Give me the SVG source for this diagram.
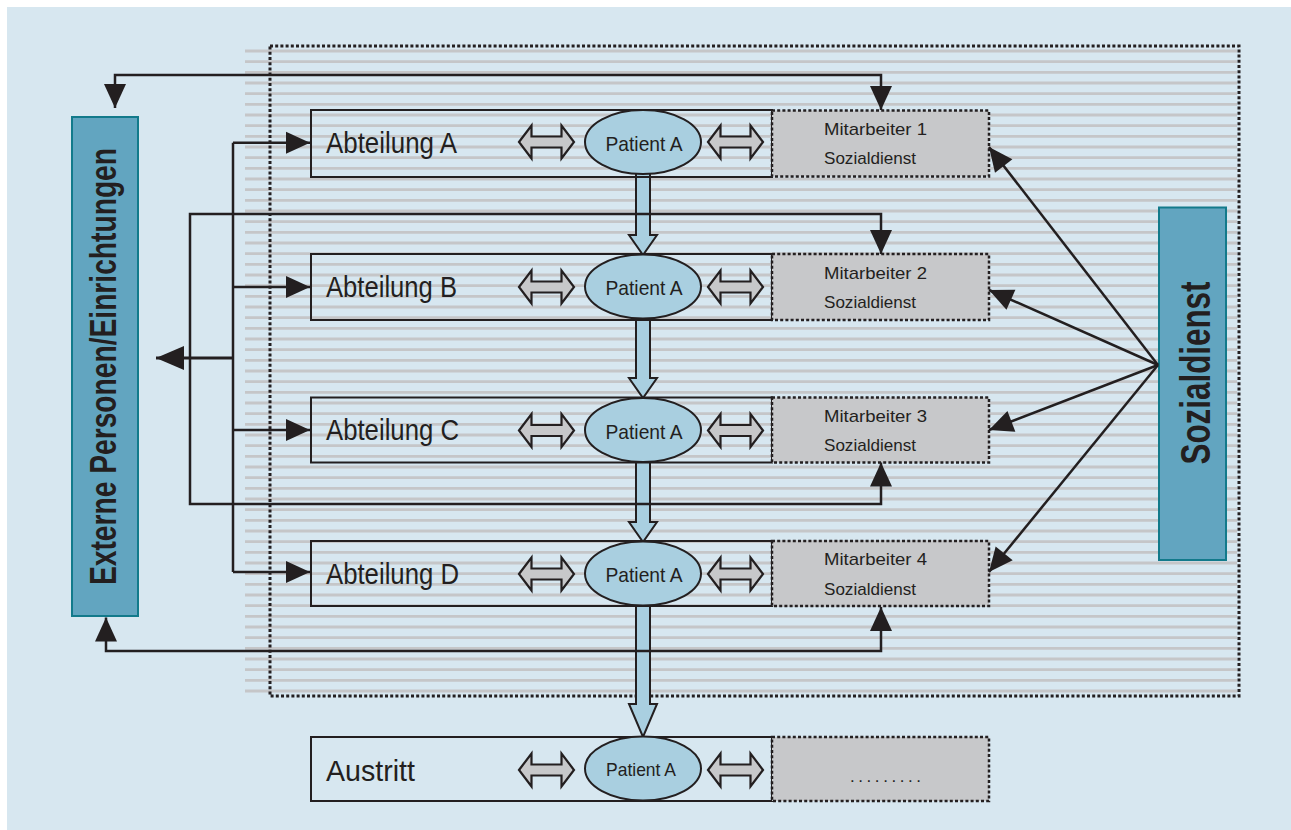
<svg xmlns="http://www.w3.org/2000/svg" width="1291" height="830" viewBox="0 0 1291 830">
<style>
.row{fill:none;stroke:#231f20;stroke-width:2}
.mit{fill:#c7c8ca;stroke:#231f20;stroke-width:2.5;stroke-dasharray:3 2.2}
.pat{fill:#a9cfe0;stroke:#231f20;stroke-width:2}
.dbl{fill:#c7c8ca;stroke:#231f20;stroke-width:2.2;stroke-linejoin:miter}
.big{fill:#a9cfe0;stroke:#231f20;stroke-width:2;stroke-linejoin:miter}
.side{fill:#62a5c0;stroke:#127a8b;stroke-width:2}
.lbl{font-family:"Liberation Sans",Arial,sans-serif;font-size:29px;fill:#231f20}
.ptx{font-family:"Liberation Sans",Arial,sans-serif;font-size:21px;fill:#231f20;text-anchor:middle}
.mtx{font-family:"Liberation Sans",Arial,sans-serif;font-size:17px;fill:#231f20}
.vtx{font-family:"Liberation Sans",Arial,sans-serif;font-weight:bold;fill:#231f20;text-anchor:middle}
.con{fill:none;stroke:#231f20;stroke-width:2.5;stroke-linecap:butt}
</style>
<defs>
<marker id="ah" markerUnits="userSpaceOnUse" markerWidth="24" markerHeight="22" refX="24" refY="11" orient="auto-start-reverse" overflow="visible">
<path d="M0,0 L24,11 L0,22 Z" fill="#231f20"/>
</marker>
<marker id="ahBig" markerUnits="userSpaceOnUse" markerWidth="28" markerHeight="24" refX="28" refY="12" orient="auto" overflow="visible">
<path d="M0,0 L28,12 L0,24 Z" fill="#231f20"/>
</marker>
<path id="dbl" d="M-27.5,0 L-15,-16.5 L-15,-5.5 L15,-5.5 L15,-16.5 L27.5,0 L15,16.5 L15,5.5 L-15,5.5 L-15,16.5 Z"/>
</defs>

<rect x="7" y="7" width="1284" height="823" fill="#d7e7f0"/>
<path fill="none" stroke="#c5c6c8" stroke-width="2.8" d="M245,51 H1237 M245,61.67 H1237 M245,72.33 H1237 M245,83 H1237 M245,93.67 H1237 M245,104.33 H1237 M245,115 H1237 M245,125.67 H1237 M245,136.33 H1237 M245,147 H1237 M245,157.67 H1237 M245,168.33 H1237 M245,179 H1237 M245,189.67 H1237 M245,200.33 H1237 M245,211 H1237 M245,221.67 H1237 M245,232.33 H1237 M245,243 H1237 M245,253.67 H1237 M245,264.33 H1237 M245,275 H1237 M245,285.67 H1237 M245,296.33 H1237 M245,307 H1237 M245,317.67 H1237 M245,328.33 H1237 M245,339 H1237 M245,349.67 H1237 M245,360.33 H1237 M245,371 H1237 M245,381.67 H1237 M245,392.33 H1237 M245,403 H1237 M245,413.67 H1237 M245,424.33 H1237 M245,435 H1237 M245,445.67 H1237 M245,456.33 H1237 M245,467 H1237 M245,477.67 H1237 M245,488.33 H1237 M245,499 H1237 M245,509.67 H1237 M245,520.33 H1237 M245,531 H1237 M245,541.67 H1237 M245,552.33 H1237 M245,563 H1237 M245,573.67 H1237 M245,584.33 H1237 M245,595 H1237 M245,605.67 H1237 M245,616.33 H1237 M245,627 H1237 M245,637.67 H1237 M245,648.33 H1237 M245,659 H1237 M245,669.67 H1237 M245,680.33 H1237 M245,691 H1237"/>
<rect x="270" y="46" width="969" height="650" fill="none" stroke="#231f20" stroke-width="3" stroke-dasharray="3 2.2"/>

<g id="flow-arrows">
<path class="big" d="M636,174 L636,235 L629,235 L643,255 L657,235 L650,235 L650,174"/>
<path class="big" d="M636,318 L636,378 L629,378 L643,398 L657,378 L650,378 L650,318"/>
<path class="big" d="M636,462 L636,522 L629,522 L643,542 L657,522 L650,522 L650,462"/>
<path class="big" d="M636,605 L636,704 L629,704 L643,737 L657,704 L650,704 L650,605"/>
</g>

<g id="row-a">
<rect class="row" x="311" y="110" width="461" height="67"/>
<text class="lbl" x="326" y="152.7" textLength="131" lengthAdjust="spacingAndGlyphs">Abteilung A</text>
<use href="#dbl" class="dbl" transform="translate(546.5,142)"/>
<ellipse class="pat" cx="643" cy="142" rx="58" ry="32"/>
<text class="ptx" x="644" y="150.5" textLength="77" lengthAdjust="spacingAndGlyphs">Patient A</text>
<use href="#dbl" class="dbl" transform="translate(735.5,142)"/>
<rect class="mit" x="772" y="110.5" width="217" height="66"/>
<text class="mtx" x="824" y="134.7" textLength="103" lengthAdjust="spacingAndGlyphs">Mitarbeiter 1</text>
<text class="mtx" x="824" y="164.3" textLength="92" lengthAdjust="spacingAndGlyphs">Sozialdienst</text>
</g>

<g id="row-b">
<rect class="row" x="311" y="254" width="461" height="66"/>
<text class="lbl" x="326" y="296.5" textLength="131" lengthAdjust="spacingAndGlyphs">Abteilung B</text>
<use href="#dbl" class="dbl" transform="translate(546.5,287)"/>
<ellipse class="pat" cx="643" cy="286.5" rx="58" ry="32"/>
<text class="ptx" x="644" y="295" textLength="77" lengthAdjust="spacingAndGlyphs">Patient A</text>
<use href="#dbl" class="dbl" transform="translate(735.5,287)"/>
<rect class="mit" x="772" y="254" width="217" height="66"/>
<text class="mtx" x="824" y="278.5" textLength="103" lengthAdjust="spacingAndGlyphs">Mitarbeiter 2</text>
<text class="mtx" x="824" y="308" textLength="92" lengthAdjust="spacingAndGlyphs">Sozialdienst</text>
</g>

<g id="row-c">
<rect class="row" x="311" y="397.5" width="461" height="65"/>
<text class="lbl" x="326" y="440" textLength="133" lengthAdjust="spacingAndGlyphs">Abteilung C</text>
<use href="#dbl" class="dbl" transform="translate(546.5,430.5)"/>
<ellipse class="pat" cx="643" cy="430" rx="58" ry="32"/>
<text class="ptx" x="644" y="438.5" textLength="77" lengthAdjust="spacingAndGlyphs">Patient A</text>
<use href="#dbl" class="dbl" transform="translate(735.5,430.5)"/>
<rect class="mit" x="772" y="397.5" width="217" height="65"/>
<text class="mtx" x="824" y="421.5" textLength="103" lengthAdjust="spacingAndGlyphs">Mitarbeiter 3</text>
<text class="mtx" x="824" y="451" textLength="92" lengthAdjust="spacingAndGlyphs">Sozialdienst</text>
</g>

<g id="row-d">
<rect class="row" x="311" y="541" width="461" height="65"/>
<text class="lbl" x="326" y="583.5" textLength="133" lengthAdjust="spacingAndGlyphs">Abteilung D</text>
<use href="#dbl" class="dbl" transform="translate(546.5,574)"/>
<ellipse class="pat" cx="643" cy="573.5" rx="58" ry="32"/>
<text class="ptx" x="644" y="582" textLength="77" lengthAdjust="spacingAndGlyphs">Patient A</text>
<use href="#dbl" class="dbl" transform="translate(735.5,574)"/>
<rect class="mit" x="772" y="541" width="217" height="65"/>
<text class="mtx" x="824" y="565" textLength="103" lengthAdjust="spacingAndGlyphs">Mitarbeiter 4</text>
<text class="mtx" x="824" y="594.5" textLength="92" lengthAdjust="spacingAndGlyphs">Sozialdienst</text>
</g>

<g id="row-austritt">
<rect class="row" x="311" y="737" width="461" height="64"/>
<text class="lbl" x="326" y="781" textLength="89" lengthAdjust="spacingAndGlyphs">Austritt</text>
<use href="#dbl" class="dbl" transform="translate(546.5,770)"/>
<ellipse class="pat" cx="643" cy="768.5" rx="58" ry="32"/>
<text class="ptx" x="641" y="776" style="font-size:19px" textLength="70" lengthAdjust="spacingAndGlyphs">Patient A</text>
<use href="#dbl" class="dbl" transform="translate(735.5,770)"/>
<rect class="mit" x="772" y="737" width="217" height="64"/>
<text class="mtx" x="850" y="782" textLength="71" lengthAdjust="spacing">.........</text>
</g>

<g id="externe">
<rect class="side" x="72" y="117" width="66" height="499"/>
<text class="vtx" transform="translate(116,366.5) rotate(-90)" style="font-size:36px" textLength="437" lengthAdjust="spacingAndGlyphs">Externe Personen/Einrichtungen</text>
</g>

<g id="sozialdienst">
<rect class="side" x="1159" y="207.5" width="67" height="352.5"/>
<text class="vtx" transform="translate(1209.5,373) rotate(-90)" style="font-size:42px" textLength="183" lengthAdjust="spacingAndGlyphs">Sozialdienst</text>
</g>

<g id="connectors">
<path class="con" d="M115,108 V75 H881 V110" marker-start="url(#ah)" marker-end="url(#ah)"/>
<path class="con" d="M881,607 V651 H106 V617.5" marker-start="url(#ah)" marker-end="url(#ah)"/>
<path class="con" d="M881,254 V214 H190 V504 H881 V462.5" marker-start="url(#ah)" marker-end="url(#ah)"/>
<path class="con" d="M233,142.7 V572"/>
<path class="con" d="M233,142.7 H310" marker-end="url(#ah)"/>
<path class="con" d="M233,287 H310" marker-end="url(#ah)"/>
<path class="con" d="M233,430 H310" marker-end="url(#ah)"/>
<path class="con" d="M233,572 H310" marker-end="url(#ah)"/>
<path class="con" d="M233,358 H156" style="stroke-width:3" marker-end="url(#ahBig)"/>
<path class="con" d="M1158,365 L989,147" marker-end="url(#ah)"/>
<path class="con" d="M1158,365 L989,290" marker-end="url(#ah)"/>
<path class="con" d="M1158,365 L989,430" marker-end="url(#ah)"/>
<path class="con" d="M1158,365 L989,572" marker-end="url(#ah)"/>
</g>
</svg>
